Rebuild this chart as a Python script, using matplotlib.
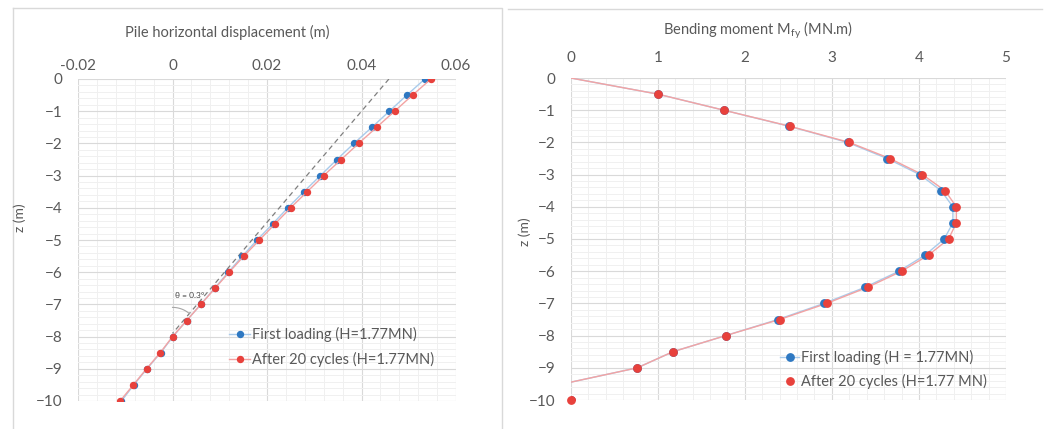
import numpy as np
import matplotlib
matplotlib.use("Agg")
import matplotlib.pyplot as plt
from matplotlib.lines import Line2D
from matplotlib.ticker import MultipleLocator

plt.rcParams["font.family"] = ["Lato", "DejaVu Sans"]

# depth below pile head (m)
Z = [0, -0.5, -1, -1.5, -2, -2.5, -3, -3.5, -4, -4.5, -5,
     -5.5, -6, -6.5, -7, -7.5, -8, -8.5, -9, -9.5, -10]

# pile horizontal displacement (m)
DISP_FIRST = [0.0534, 0.0496, 0.0459, 0.0422, 0.0384, 0.0348, 0.0313, 0.0278,
              0.0244, 0.0212, 0.0179, 0.0148, 0.0118, 0.0089, 0.0060, 0.0030,
              0.0001, -0.0025, -0.0054, -0.0082, -0.0108]
DISP_CYCLES = [0.0547, 0.0508, 0.0470, 0.0432, 0.0394, 0.0357, 0.0320, 0.0285,
               0.0250, 0.0217, 0.0184, 0.0151, 0.0120, 0.0090, 0.0060, 0.0030,
               0.0000, -0.0026, -0.0055, -0.0083, -0.0111]

# rigid rotation line (theta = 0.3 deg)
ROT_X = [0.0458, 0.0]
ROT_Z = [0.0, -7.9]

# bending moment Mfy (MN.m)
MOM_FIRST = [0.0, 1.00, 1.76, 2.51, 3.18, 3.635, 4.01, 4.255, 4.39, 4.39, 4.29,
             4.07, 3.77, 3.38, 2.91, 2.38, 1.78, 1.175, 0.765, -0.09, 0.0]
MOM_CYCLES = [0.0, 1.00, 1.76, 2.52, 3.20, 3.666, 4.04, 4.30, 4.43, 4.43, 4.34,
              4.11, 3.80, 3.41, 2.94, 2.40, 1.78, 1.175, 0.765, -0.09, 0.0]

GRAY = "#595959"
BLUE = "#2e78c2"
RED = "#e8413c"
LBLUE = "#a9cbeb"
LRED = "#f3a3a3"

W, H = 1046, 429
fig = plt.figure(figsize=(W / 100, H / 100), dpi=100)


def px_axes(x0, y0, x1, y1):
    return fig.add_axes([x0 / W, 1 - y1 / H, (x1 - x0) / W, (y1 - y0) / H])


def style(ax, xmaj, xmin, xlim, tick_pad):
    ax.set_xlim(*xlim)
    ax.set_ylim(-10, 0)
    ax.xaxis.set_major_locator(MultipleLocator(xmaj))
    ax.xaxis.set_minor_locator(MultipleLocator(xmin))
    ax.yaxis.set_major_locator(MultipleLocator(1))
    ax.yaxis.set_minor_locator(MultipleLocator(0.2))
    ax.grid(which="major", color="#d9d9d9", lw=0.8)
    ax.grid(which="minor", color="#f0f0f0", lw=0.7)
    ax.set_axisbelow(True)
    for s in ax.spines.values():
        s.set_visible(False)
    ax.xaxis.tick_top()
    ax.tick_params(which="both", length=0, labelsize=11, labelcolor=GRAY)
    ax.tick_params(axis="x", pad=tick_pad)
    ax.tick_params(axis="y", pad=11)


# panel borders
fig.add_artist(Line2D([13 / W, 502 / W, 502 / W], [1 - 7.5 / H, 1 - 7.5 / H, 0],
                      color="#d9d9d9", lw=1))
fig.add_artist(Line2D([13 / W, 13 / W], [1 - 7.5 / H, 0], color="#d9d9d9", lw=1))
fig.add_artist(Line2D([508 / W, 1042 / W], [1 - 9 / H, 1 - 9 / H], color="#d9d9d9", lw=1))

# ---- left: displacement ----
ax1 = px_axes(78, 79, 456, 401)
style(ax1, 0.02, 0.004, (-0.02, 0.06), 4)
ax1.xaxis.set_major_formatter(lambda v, p: f"{v:g}")
ax1.plot(ROT_X, ROT_Z, ls=(0, (4, 3)), color="#7f7f7f", lw=0.9, zorder=2)
ax1.plot(DISP_FIRST, Z, color=LBLUE, lw=1, marker="o", ms=4.3, mfc=BLUE, mec=BLUE,
         zorder=3, label="First loading (H=1.77MN)")
ax1.plot(DISP_CYCLES, Z, color=LRED, lw=1, marker="o", ms=4.3, mfc=RED, mec=RED,
         zorder=4, label="After 20 cycles (H=1.77MN)")

# rotation angle arc drawn in pixel space around the pivot
sx = ax1.bbox.width / (0.08)
sy = ax1.bbox.height / 10.0
ang_line = np.arctan2((ROT_Z[0] - ROT_Z[1]) * sy, (ROT_X[0] - ROT_X[1]) * sx)
a = np.linspace(np.pi / 2, ang_line, 30)
r = 26
ax1.plot(ROT_X[1] + r * np.cos(a) / sx, ROT_Z[1] + r * np.sin(a) / sy,
         color="#a6a6a6", lw=0.8, zorder=2)
ax1.text(0.0005, -6.72, "θ = 0.3°", fontsize=6, color="#404040", va="center")

leg1 = ax1.legend(loc="center left", bbox_to_anchor=(0.385, 0.168), frameon=False,
                  fontsize=10.5, handlelength=1.4, handletextpad=0.15, labelspacing=0.65,
                  borderaxespad=0)
for t in leg1.get_texts():
    t.set_color(GRAY)

fig.text(227 / W, 1 - 32 / H, "Pile horizontal displacement (m)", ha="center",
         va="center", fontsize=10.5, color=GRAY)
fig.text(20 / W, 1 - 218 / H, "z (m)", rotation=90, ha="center", va="center",
         fontsize=10, color=GRAY)

# ---- right: bending moment ----
ax2 = px_axes(570.7, 78, 1006, 400)
style(ax2, 1, 0.2, (0, 5), 9)
ax2.plot(MOM_FIRST, Z, color=LBLUE, lw=1, zorder=3)
ax2.plot(MOM_CYCLES, Z, color=LRED, lw=1, zorder=4)
ax2.plot(MOM_FIRST[1:], Z[1:], ls="none", marker="o", ms=5.3, mfc=BLUE, mec=BLUE,
         zorder=5)
ax2.plot(MOM_CYCLES[1:], Z[1:], ls="none", marker="o", ms=5.3, mfc=RED, mec=RED,
         zorder=6)
ax2.plot([MOM_CYCLES[-1]], [Z[-1]], ls="none", marker="o", ms=5.3, mfc=RED, mec=RED,
         zorder=7, clip_on=False)

h1 = Line2D([], [], color=LBLUE, lw=1, marker="o", ms=5.3, mfc=BLUE, mec=BLUE)
h2 = Line2D([], [], ls="none", marker="o", ms=5.3, mfc=RED, mec=RED)
leg2 = ax2.legend([h1, h2], ["First loading (H = 1.77MN)", "After 20 cycles (H=1.77 MN)"],
                  loc="center left", bbox_to_anchor=(0.468, 0.094), frameon=False,
                  fontsize=10.5, handlelength=1.3, handletextpad=0.15, labelspacing=0.6,
                  borderaxespad=0)
for t in leg2.get_texts():
    t.set_color(GRAY)

fig.text(758 / W, 1 - 30 / H, r"Bending moment M$_{\mathregular{fy}}$ (MN.m)", ha="center",
         va="center", fontsize=10.5, color=GRAY)
fig.text(525 / W, 1 - 232 / H, "z (m)", rotation=90, ha="center", va="center",
         fontsize=10, color=GRAY)

fig.savefig("out.png", dpi=100)
